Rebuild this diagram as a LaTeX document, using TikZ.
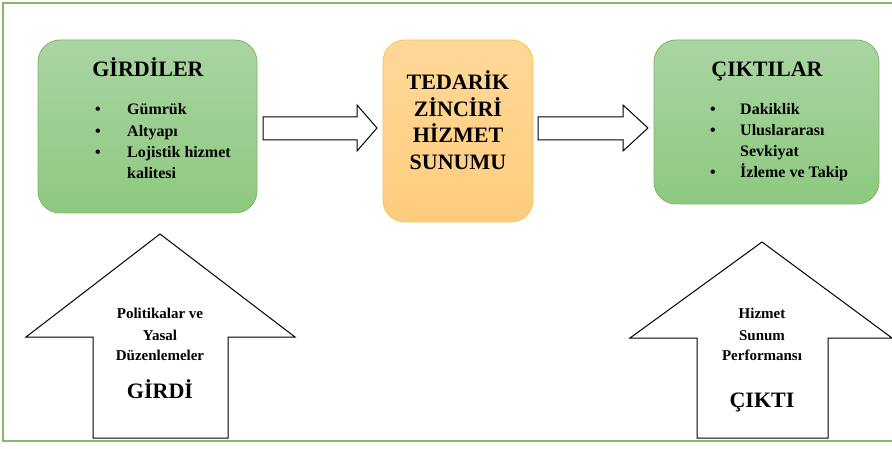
\documentclass[tikz,border=0pt]{standalone}
\usepackage{fontspec}
\setmainfont{LiberationSerif}[Extension=.ttf, UprightFont=*-Regular, BoldFont=*-Bold, ItalicFont=*-Italic, BoldItalicFont=*-BoldItalic]
\definecolor{gtop}{HTML}{A9D5A2}
\definecolor{gbot}{HTML}{8DC97F}
\definecolor{gline}{HTML}{82B366}
\definecolor{otop}{HTML}{FFD897}
\definecolor{obot}{HTML}{FFCC7E}
\definecolor{oline}{HTML}{F5C451}
\definecolor{frame}{HTML}{82B96C}
\tikzset{
  greenbox/.style={draw=gline, line width=0.8pt, rounded corners=22pt, top color=gtop, bottom color=gbot, minimum width=#1},
  orangebox/.style={draw=oline, line width=0.8pt, rounded corners=22pt, top color=otop, bottom color=obot},
  title/.style={font=\fontsize{22}{26}\selectfont\bfseries, anchor=base, inner sep=0pt},
  item/.style={font=\fontsize{16}{21}\selectfont\bfseries, anchor=base west, inner sep=0pt},
  bullet/.style={font=\fontsize{16}{21}\selectfont\bfseries, anchor=base, inner sep=0pt},
  small/.style={font=\fontsize{15}{20}\selectfont\bfseries, anchor=base, inner sep=0pt},
  blockarrow/.style={draw=black, line width=1pt, fill=white, line join=miter}
}
\begin{document}
\begin{tikzpicture}[x=1pt,y=-1pt]
\useasboundingbox (0,0) rectangle (892,449);
\draw[frame, line width=1.5pt] (3,3) rectangle (895,441);

% boxes
\node[greenbox=219pt, minimum height=173pt, inner sep=0pt] (inbox) at (147.5,126.5) {};
\node[orangebox, minimum width=150pt, minimum height=182pt, inner sep=0pt] (mid) at (458,131) {};
\node[greenbox=225pt, minimum height=164pt, inner sep=0pt] (outbox) at (766.5,122) {};

% left box text
\node[title] (t1) at (148,77) {GİRDİLER};
\node[bullet] (b11) at (98,115) {•};
\node[item] (i11) at (127,115) {Gümrük};
\node[bullet] (b12) at (98,136.3) {•};
\node[item] (i12) at (127,136.3) {Altyapı};
\node[bullet] (b13) at (98,157.6) {•};
\node[item] (i13) at (127,157.6) {Lojistik hizmet};
\node[item] (i14) at (127,179) {kalitesi};

% middle text
\node[title] (m1) at (458,90) {TEDARİK};
\node[title] (m2) at (458,116.5) {ZİNCİRİ};
\node[title] (m3) at (458,143) {HİZMET};
\node[title] (m4) at (458,169.5) {SUNUMU};

% right box text
\node[title] (t3) at (767,77) {ÇIKTILAR};
\node[bullet] (b31) at (713,115) {•};
\node[item] (i31) at (740,115) {Dakiklik};
\node[bullet] (b32) at (713,136) {•};
\node[item] (i32) at (740,136) {Uluslararası};
\node[item] (i33) at (740,157) {Sevkiyat};
\node[bullet] (b34) at (713,178) {•};
\node[item] (i34) at (740,178) {İzleme ve Takip};

% horizontal block arrows
\draw[blockarrow] (263,117) -- (357,117) -- (357,105) -- (377,128) -- (357,151) -- (357,140) -- (263,140) -- cycle;
\draw[blockarrow] (538,117) -- (623,117) -- (623,105) -- (648,128) -- (623,151) -- (623,140) -- (538,140) -- cycle;

% up arrows
\draw[blockarrow] (160,234) -- (295,337) -- (228,337) -- (228,438) -- (93,438) -- (93,337) -- (26,337) -- cycle;
\draw[blockarrow] (762,242) -- (892,338) -- (828,338) -- (828,438) -- (697,438) -- (697,338) -- (630,338) -- cycle;

% up arrow texts
\node[small] (p1) at (160,319) {Politikalar ve};
\node[small] (p2) at (160,340) {Yasal};
\node[small] (p3) at (160,360.5) {Düzenlemeler};
\node[title] (p4) at (160,398) {GİRDİ};

\node[small] (q1) at (762,319) {Hizmet};
\node[small] (q2) at (762,340) {Sunum};
\node[small] (q3) at (762,360.5) {Performansı};
\node[title] (q4) at (762,407) {ÇIKTI};
\end{tikzpicture}
\end{document}
